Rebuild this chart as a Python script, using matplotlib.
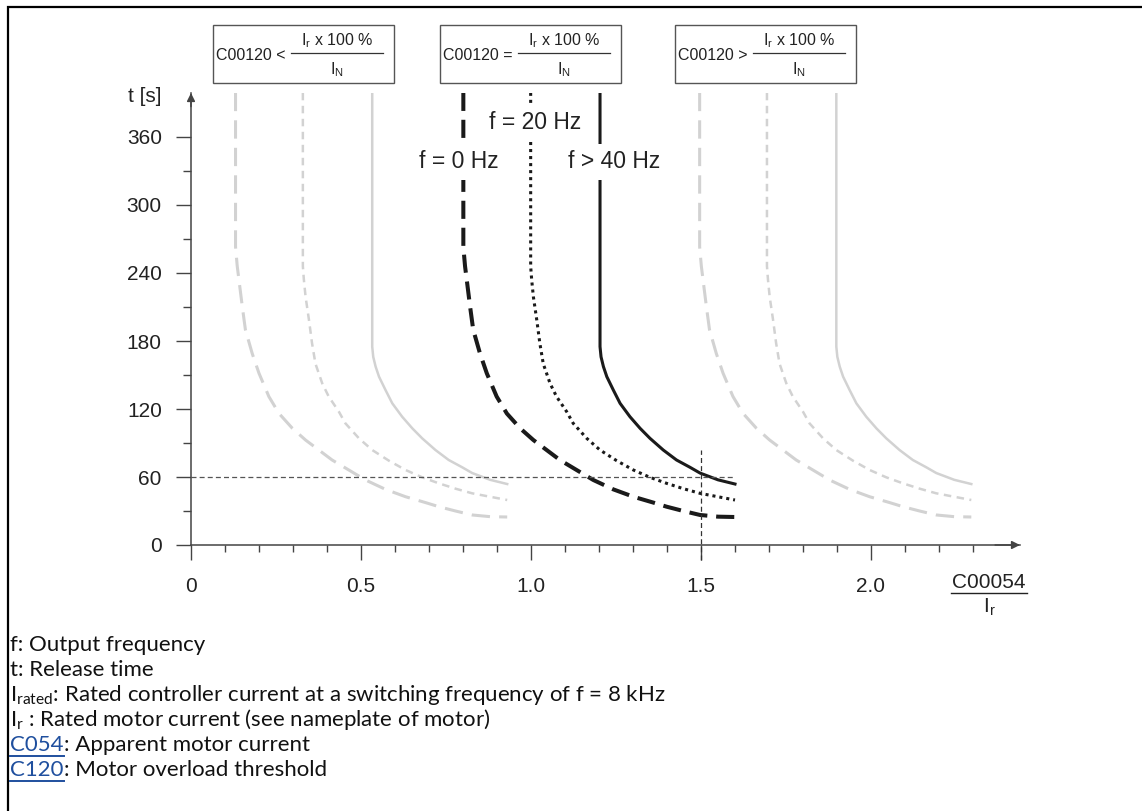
import matplotlib
matplotlib.use('Agg')
import matplotlib.pyplot as plt

# release time curves, x = C00054 / Ir, t in s (threshold C00120 = Ir x 100 % / IN)
x_0hz = [0.801, 0.801, 0.801, 0.806, 0.811, 0.821, 0.830, 0.850, 0.870, 0.899, 0.929, 0.968,
         1.007, 1.046, 1.085, 1.134, 1.183, 1.242, 1.301, 1.360, 1.399, 1.448, 1.497, 1.55, 1.60]
t_0hz = [399, 330, 263, 246, 234, 210, 190, 169, 151.5, 131, 116, 103,
         92.6, 83.8, 75, 66.2, 57.4, 49.1, 42.6, 37.4, 33.8, 30.0, 26.5, 25.0, 24.7]
x_20hz = [0.999, 0.999, 0.999, 1.002, 1.007, 1.017, 1.026, 1.036, 1.056, 1.075, 1.105, 1.124,
          1.164, 1.203, 1.252, 1.301, 1.350, 1.399, 1.448, 1.497, 1.60]
t_20hz = [399, 330, 246, 234, 219, 198.5, 178, 160, 142.6, 131, 117.6, 107.4,
          94.1, 83.8, 74.4, 66.2, 59.7, 54.4, 49.7, 45.6, 39.7]
x_40hz = [1.203, 1.203, 1.203, 1.206, 1.213, 1.223, 1.242, 1.262, 1.291, 1.321, 1.350,
          1.389, 1.428, 1.468, 1.497, 1.55, 1.60]
t_40hz = [399, 330, 175, 166, 157.4, 148.5, 136.8, 125, 113.2, 102.9, 94.1,
          83.8, 75, 68.5, 63.5, 57.5, 53.8]

# the grey families: same curves for C00120 below / above the rated value
group_shift = [-0.67, 0.695]

curve_labels = ['f = 0 Hz', 'f = 20 Hz', 'f > 40 Hz']
label_x = [0.788, 1.012, 1.244]
label_t = [338, 373, 338]

x_major = [0, 0.5, 1.0, 1.5, 2.0]
x_ticklabels = ['0', '0.5', '1.0', '1.5', '2.0']
x_minor = [0.1, 0.2, 0.3, 0.4, 0.6, 0.7, 0.8, 0.9, 1.1, 1.2, 1.3, 1.4,
           1.6, 1.7, 1.8, 1.9, 2.1, 2.2, 2.3]
y_major = [0, 60, 120, 180, 240, 300, 360]
y_minor = [30, 90, 150, 210, 270, 330]

ref_x = 1.5
ref_t = 60

box_signs = ['<', '=', '>']
box_left = [213, 440, 675]

notes = ['f: Output frequency',
         't: Release time',
         r'I$_\mathregular{rated}$: Rated controller current at a switching frequency of f = 8 kHz',
         r'I$_\mathregular{r}$ : Rated motor current (see nameplate of motor)']
links = ['C054', 'C120']
link_notes = [': Apparent motor current', ': Motor overload threshold']

W, H = 1142, 811
BLACK = '#1a1a1a'
GREY = '#d2d2d2'
AXC = '#444444'
LINK = '#1f4f9e'
arial = ['Liberation Sans', 'DejaVu Sans']
note_font = ['Lato', 'DejaVu Sans']

fig = plt.figure(figsize=(W / 100, H / 100), dpi=100)

# overlay in pixel coordinates for frame, boxes and footnotes
ov = fig.add_axes([0, 0, 1, 1])
ov.set_xlim(0, W)
ov.set_ylim(H, 0)
ov.axis('off')

# frame
ov.plot([8, 8, W], [H, 7, 7], color='black', lw=1.6, solid_joinstyle='miter')

# main axes
x0, x1, y0, y1 = 191, 1020, 545, 93
ax = fig.add_axes([x0 / W, 1 - y0 / H, (x1 - x0) / W, (y0 - y1) / H])
ax.set_facecolor('none')
ax.set_xlim(0, (x1 - x0) / 340)
ax.set_ylim(0, (y0 - y1) / 68 * 60)
for s in ['top', 'right']:
    ax.spines[s].set_visible(False)
for s in ['left', 'bottom']:
    ax.spines[s].set_color(AXC)
    ax.spines[s].set_linewidth(1.1)
ax.annotate('', xy=(0, 1), xytext=(0, 0.97), xycoords='axes fraction',
            arrowprops=dict(arrowstyle='-|>', color=AXC, lw=1.1, mutation_scale=12,
                            shrinkA=0, shrinkB=0))
ax.annotate('', xy=(1, 0), xytext=(0.97, 0), xycoords='axes fraction',
            arrowprops=dict(arrowstyle='-|>', color=AXC, lw=1.1, mutation_scale=12,
                            shrinkA=0, shrinkB=0))

ax.set_xticks(x_major)
ax.set_xticklabels(x_ticklabels)
ax.set_xticks(x_minor, minor=True)
ax.set_yticks(y_major)
ax.set_yticks(y_minor, minor=True)
ax.tick_params(which='both', direction='out', color=AXC, width=1.0)
ax.tick_params(axis='x', which='major', length=11, pad=12)
ax.tick_params(axis='x', which='minor', length=5)
ax.tick_params(axis='y', which='major', length=11, pad=10)
ax.tick_params(axis='y', which='minor', length=6)
for lab in ax.get_xticklabels() + ax.get_yticklabels():
    lab.set_family(arial)
    lab.set_fontsize(15)
    lab.set_color('#222222')

curves = [(x_0hz, t_0hz), (x_20hz, t_20hz), (x_40hz, t_40hz)]
black_styles = [dict(lw=2.9, ls=(0, (4.5, 2.2))),
                dict(lw=2.2, ls=(0, (1.0, 1.3))),
                dict(lw=2.2, ls='-')]
grey_styles = [dict(lw=2.2, ls=(0, (6, 3))),
               dict(lw=1.8, ls=(0, (3, 2.2))),
               dict(lw=1.8, ls='-')]

for shift in group_shift:
    for (xs, ts), st in zip(curves, grey_styles):
        ax.plot([v + shift for v in xs], ts, color=GREY, zorder=2, **st)
for (xs, ts), st in zip(curves, black_styles):
    ax.plot(xs, ts, color=BLACK, zorder=3, **st)

# reference lines
ax.plot([0, max(x_0hz)], [ref_t, ref_t], color='#555555', lw=0.9,
        ls=(0, (4, 2.5)), zorder=4)
ax.plot([ref_x, ref_x], [-13, 84], color='#333333', lw=0.9,
        ls=(0, (4, 2.5)), zorder=4, clip_on=False)

for txt, lx, lt in zip(curve_labels, label_x, label_t):
    ax.text(lx, lt, txt, ha='center', va='center', fontsize=16.5, family=arial,
            color='#222222', zorder=5,
            bbox=dict(boxstyle='square,pad=0.3', fc='white', ec='none'))

# axis titles
ov.text(162, 96, 't [s]', ha='right', va='center', fontsize=15, family=arial, color='#222222')
ov.text(989, 583, 'C00054', ha='center', va='center', fontsize=15, family=arial, color='#222222')
ov.plot([951, 1027], [593, 593], color='#222222', lw=1.0)
ov.text(989, 607, r'I$_\mathregular{r}$', ha='center', va='center', fontsize=15,
        family=arial, color='#222222')

# threshold boxes
for sign, bl in zip(box_signs, box_left):
    ov.add_patch(plt.Rectangle((bl, 25), 181, 58, fill=False, ec='#555555', lw=1.0))
    ov.text(bl + 3, 56, 'C00120 ' + sign, ha='left', va='center', fontsize=11.5,
            family=arial, color='#222222')
    ov.plot([bl + 78, bl + 170], [53, 53], color='#333333', lw=0.9)
    ov.text(bl + 124, 41, r'I$_\mathregular{r}$ x 100 %', ha='center', va='center',
            fontsize=11.5, family=arial, color='#222222')
    ov.text(bl + 124, 70, r'I$_\mathregular{N}$', ha='center', va='center',
            fontsize=11.5, family=arial, color='#222222')

# footnotes
NFS = 16
ny = 645
for n in notes:
    ov.text(10, ny, n, ha='left', va='center', fontsize=NFS, family=note_font, color='#111111')
    ny += 25
r = fig.canvas.get_renderer()
for lk, rest in zip(links, link_notes):
    t = ov.text(10, ny, lk, ha='left', va='center', fontsize=NFS, family=note_font, color=LINK)
    w = t.get_window_extent(renderer=r).width
    ov.plot([10, 10 + w], [ny + 11, ny + 11], color=LINK, lw=1.4)
    ov.text(10 + w, ny, rest, ha='left', va='center', fontsize=NFS, family=note_font,
            color='#111111')
    ny += 25

fig.savefig('out.png', dpi=100)
